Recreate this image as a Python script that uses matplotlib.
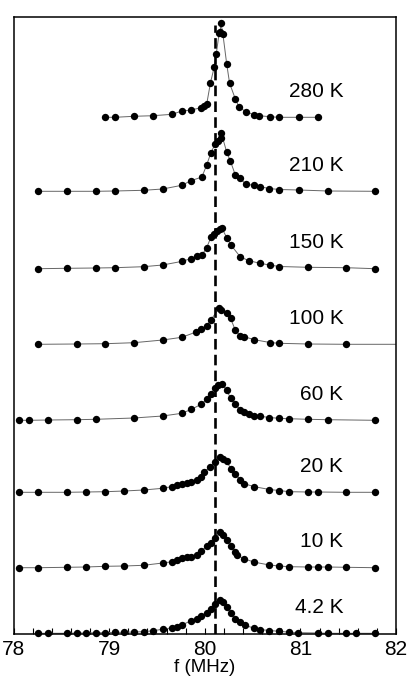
import matplotlib
matplotlib.use("Agg")
import matplotlib.pyplot as plt
from matplotlib.ticker import MultipleLocator

plt.rcParams['font.family'] = ['Liberation Sans', 'DejaVu Sans']

labels = ["280 K", "210 K", "150 K", "100 K", "60 K", "20 K", "10 K", "4.2 K"]
offsets = [516.7, 442.7, 365.3, 289.7, 213.7, 141.7, 66.3, 0.7]

f_280 = [78.96, 79.06, 79.26, 79.46, 79.66, 79.76, 79.86, 79.96, 79.99, 80.02, 80.06, 80.10,
         80.12, 80.15, 80.16, 80.17, 80.19, 80.23, 80.26, 80.32, 80.36, 80.43, 80.52, 80.57,
         80.68, 80.78, 80.99, 81.18]
i_280 = [0, 0, 1.0, 1.6, 3.0, 6.3, 7.3, 9.6, 11.3, 13.0, 34.6, 50.6,
         63.0, 84.0, 85.6, 94.0, 83.0, 53.0, 34.0, 18.3, 10.0, 5.6, 2.3, 1.6,
         0.6, 0, 0, 0]

f_210 = [78.26, 78.56, 78.86, 79.06, 79.36, 79.56, 79.76, 79.86, 79.97, 80.02, 80.065, 80.108,
         80.142, 80.17, 80.174, 80.23, 80.267, 80.32, 80.365, 80.43, 80.52, 80.578, 80.676,
         80.777, 80.986, 81.287, 81.781]
i_210 = [0, 0, 0, 0.3, 1.0, 2.3, 6.0, 10.8, 14.2, 26.3, 38.6, 47.3,
         50.0, 53.0, 58.0, 39.0, 30.5, 16.3, 13.3, 7.0, 6.0, 4.5, 2.8,
         1.8, 1.3, 0.3, 0]

f_150 = [78.26, 78.56, 78.86, 79.06, 79.36, 79.56, 79.76, 79.86, 79.92, 79.97, 80.02, 80.065,
         80.095, 80.13, 80.16, 80.178, 80.23, 80.27, 80.37, 80.46, 80.58, 80.68, 80.78, 81.08,
         81.48, 81.78]
i_150 = [0, 0.4, 0.7, 1.0, 2.0, 3.7, 7.3, 10.2, 12.5, 13.5, 21.0, 31.5,
         34.4, 37.5, 39.4, 40.7, 31.0, 24.2, 12.0, 8.0, 5.4, 3.6, 2.2, 1.4,
         1.0, 0]

f_100 = [78.26, 78.66, 78.96, 79.26, 79.56, 79.76, 79.91, 79.965, 80.02, 80.065, 80.15, 80.175,
         80.235, 80.27, 80.32, 80.37, 80.41, 80.52, 80.68, 80.78, 81.08, 81.48, 82.2]
i_100 = [0, 0.3, 0.6, 1.6, 4.3, 7.0, 12.3, 15.0, 18.3, 24.6, 36.0, 34.3,
         31.0, 26.0, 14.0, 8.4, 7.6, 4.6, 1.8, 1.0, 0.3, 0, 0]

f_60 = [78.06, 78.16, 78.36, 78.66, 78.86, 79.26, 79.56, 79.76, 79.86, 79.965, 80.02, 80.065,
        80.108, 80.142, 80.178, 80.23, 80.27, 80.32, 80.37, 80.41, 80.467, 80.52, 80.578,
        80.676, 80.777, 80.879, 81.077, 81.287, 81.781]
i_60 = [0, 0, 0.3, 0.6, 1.0, 2.3, 4.3, 7.0, 11.0, 16.1, 21.1, 26.6,
        32.0, 35.3, 36.6, 30.0, 22.0, 16.0, 10.6, 8.0, 6.0, 4.8, 4.0,
        2.8, 2.0, 1.6, 1.0, 0.6, 0]

f_20 = [78.06, 78.26, 78.56, 78.76, 78.96, 79.16, 79.36, 79.56, 79.66, 79.71, 79.76, 79.81,
        79.86, 79.92, 79.965, 79.99, 80.06, 80.108, 80.16, 80.195, 80.23, 80.27, 80.32, 80.37,
        80.41, 80.52, 80.676, 80.777, 80.879, 81.077, 81.18, 81.478, 81.781]
i_20 = [0, 0, 0, 0.3, 0.6, 1.3, 2.3, 4.0, 5.8, 7.3, 8.8, 9.6,
        10.8, 12.8, 15.5, 20.6, 25.0, 30.5, 35.3, 33.3, 31.0, 23.8, 18.3, 12.5,
        8.6, 5.6, 2.8, 1.8, 0.6, 0.3, 0.3, 0, 0]

f_10 = [78.06, 78.26, 78.56, 78.76, 78.96, 79.16, 79.36, 79.56, 79.66, 79.71, 79.76, 79.81,
        79.86, 79.92, 79.965, 80.02, 80.065, 80.108, 80.16, 80.195, 80.23, 80.27, 80.32, 80.34,
        80.41, 80.52, 80.676, 80.777, 80.879, 81.077, 81.18, 81.287, 81.478, 81.781]
i_10 = [0, 0, 0.4, 0.7, 1.4, 1.7, 2.4, 4.7, 6.0, 7.7, 9.4, 10.4,
        11.0, 13.2, 16.8, 21.3, 24.8, 29.4, 35.5, 32.5, 27.7, 21.7, 16.0, 12.7,
        8.9, 5.5, 2.7, 1.7, 1.0, 0.7, 0.7, 0.7, 0.4, 0]

f_4 = [78.26, 78.36, 78.56, 78.66, 78.76, 78.86, 78.96, 79.06, 79.16, 79.26, 79.36, 79.46,
       79.56, 79.66, 79.71, 79.76, 79.86, 79.92, 79.965, 80.02, 80.065, 80.108, 80.16, 80.195,
       80.235, 80.27, 80.32, 80.37, 80.42, 80.52, 80.578, 80.676, 80.777, 80.879, 80.98,
       81.18, 81.287, 81.478, 81.58, 81.781]
i_4 = [0, 0, 0, 0.3, 0.3, 0.6, 0.6, 1.0, 1.0, 1.3, 1.6, 2.6,
       4.0, 5.6, 6.6, 8.5, 12.5, 14.5, 17.3, 20.8, 24.6, 29.0, 33.7, 31.0,
       26.8, 20.0, 14.5, 11.0, 8.0, 5.0, 3.8, 2.8, 2.0, 1.2, 0.6,
       0.3, 0, 0, 0, 0]

freqs = [f_280, f_210, f_150, f_100, f_60, f_20, f_10, f_4]
intens = [i_280, i_210, i_150, i_100, i_60, i_20, i_10, i_4]

f_ref = 80.11

fig = plt.figure(figsize=(4.15, 6.94), dpi=100)
ax = fig.add_axes([13.5 / 415, 1 - 634 / 694, (396 - 13.5) / 415, (634 - 16.5) / 694])

for f, inten, off, lab in zip(freqs, intens, offsets, labels):
    y = [v + off for v in inten]
    ax.plot(f, y, '-', color='0.4', lw=0.7, zorder=2)
    ax.plot(f, y, 'o', color='black', ms=5.3, mec='black', mew=0, zorder=3,
            clip_on=(f is f_100))
    ax.text(81.45, off + 26, lab, ha='right', va='center', fontsize=15)

ax.plot([f_ref, f_ref], [0, 609], color='black', lw=1.9, linestyle=(0, (4.0, 2.0)), zorder=4)

ax.set_xlim(78, 82)
ax.set_ylim(0, 617.5)
ax.set_yticks([])
ax.xaxis.set_major_locator(MultipleLocator(1))
ax.xaxis.set_minor_locator(MultipleLocator(0.2))
ax.tick_params(axis='x', which='both', direction='in', length=4, width=0.8, labelsize=15, pad=4)
ax.set_xlabel('f (MHz)', fontsize=13.5, labelpad=0)
for s in ax.spines.values():
    s.set_linewidth(1.1)

fig.savefig('out.png', dpi=100)
